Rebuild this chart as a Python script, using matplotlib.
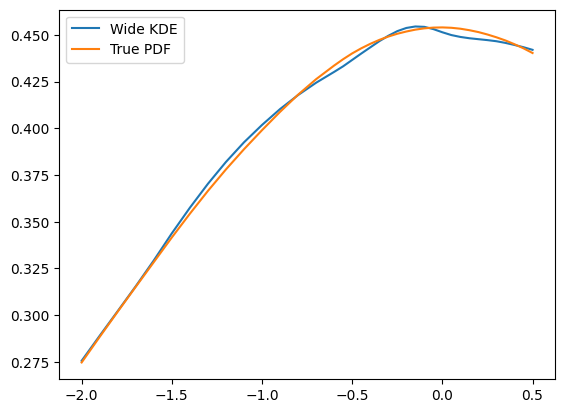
import numpy as np
import matplotlib
matplotlib.use('Agg')
import matplotlib.pyplot as plt

# values
x = [-2.0, -1.9, -1.8, -1.7, -1.6, -1.5, -1.4, -1.3, -1.2, -1.1, -1.0,
     -0.9, -0.8, -0.7, -0.6, -0.55, -0.5, -0.45, -0.4, -0.35, -0.3,
     -0.25, -0.2, -0.15, -0.1, -0.05, 0.0, 0.05, 0.1, 0.15, 0.2,
     0.25, 0.3, 0.35, 0.4, 0.45, 0.5]
wide_kde = [0.2756, 0.2890, 0.3022, 0.3155, 0.3293, 0.3438, 0.3575, 0.3703, 0.3820, 0.3925, 0.4018,
            0.4103, 0.4178, 0.4244, 0.4302, 0.4332, 0.4366, 0.4400, 0.4433, 0.4466, 0.4495,
            0.4520, 0.4537, 0.4545, 0.4543, 0.4531, 0.4514, 0.4499, 0.4489, 0.4482, 0.4477,
            0.4472, 0.4466, 0.4457, 0.4446, 0.4434, 0.4420]
true_pdf = [0.2747, 0.2884, 0.3019, 0.3152, 0.3284, 0.3416, 0.3543, 0.3665, 0.3780, 0.3888, 0.3990,
            0.4088, 0.4180, 0.4263, 0.4336, 0.4370, 0.4401, 0.4428, 0.4452, 0.4473, 0.4491,
            0.4506, 0.4518, 0.4528, 0.4535, 0.4539, 0.4540, 0.4538, 0.4533, 0.4525, 0.4515,
            0.4502, 0.4487, 0.4470, 0.4450, 0.4428, 0.4403]

fig, ax = plt.subplots(figsize=(6.4, 4.8))
ax.plot(x, wide_kde, label='Wide KDE')
ax.plot(x, true_pdf, label='True PDF')
ax.legend(loc='upper left')

fig.savefig('out.png', bbox_inches='tight')
